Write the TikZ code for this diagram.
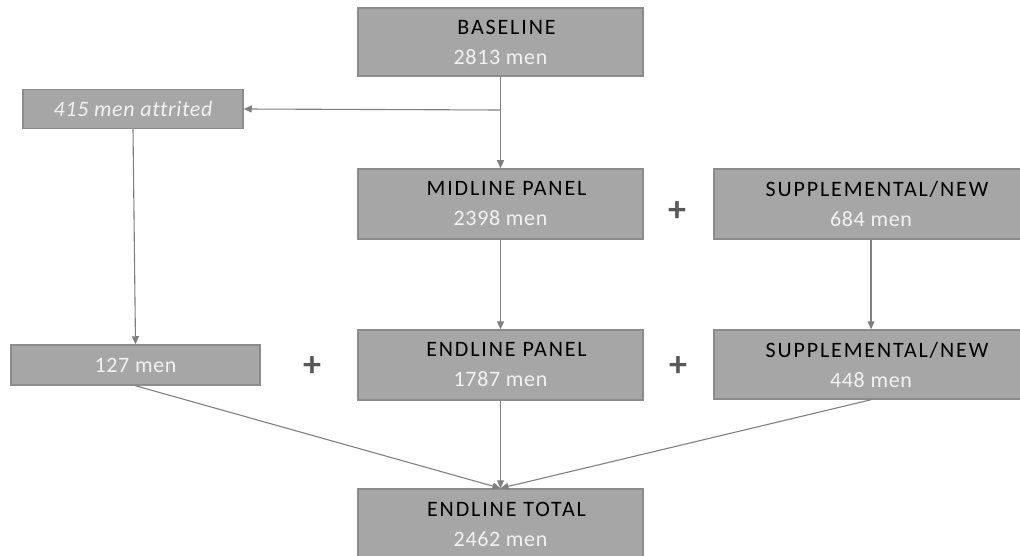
\documentclass[tikz,border=0pt]{standalone}
\usepackage{fontspec}
\setmainfont[Ligatures=NoCommon]{Carlito}
\usetikzlibrary{arrows.meta}
\definecolor{boxgray}{HTML}{A6A6A6}
\definecolor{edgegray}{HTML}{8C8C8C}
\definecolor{linegray}{HTML}{7F7F7F}
\definecolor{numwhite}{HTML}{F2F2F2}
\definecolor{plusgray}{HTML}{595959}
\newcommand{\boxtitle}[1]{\hspace*{12pt}{\addfontfeatures{LetterSpace=8.5}#1}}
\newcommand{\boxcount}[1]{{\addfontfeatures{LetterSpace=3}\color{numwhite}#1}}

\begin{document}
\begin{tikzpicture}[x=1pt,y=-1pt,
  box/.style={draw=edgegray,line width=1.5pt,fill=boxgray,inner sep=0pt,align=center,font=\fontsize{22}{30}\selectfont},
  arr/.style={draw=linegray,line width=1.1pt,-{Triangle[length=8pt,width=7pt]}},
  plus/.style={text=plusgray,font=\fontsize{36}{36}\selectfont\bfseries}]
\useasboundingbox (0,0) rectangle (1020,556);
\node[box,minimum width=285pt,minimum height=68pt] (base) at (500.5,42) {\boxtitle{BASELINE}\\\boxcount{2813 men}};
\node[box,minimum width=220pt,minimum height=39pt] (attr) at (133,109) {\boxcount{\itshape 415 men attrited}};
\node[box,minimum width=285pt,minimum height=70pt] (mid) at (500.5,204) {\boxtitle{MIDLINE PANEL}\\\boxcount{2398 men}};
\node[box,minimum width=314pt,minimum height=70pt] (supA) at (871,204) {\boxtitle{SUPPLEMENTAL/NEW}\\\boxcount{684 men}};
\node[box,minimum width=249pt,minimum height=40pt] (rest) at (135.5,365) {\boxcount{127 men}};
\node[box,minimum width=285pt,minimum height=70pt] (endp) at (500.5,365) {\boxtitle{ENDLINE PANEL}\\\boxcount{1787 men}};
\node[box,minimum width=314pt,minimum height=69pt] (supB) at (871,364.5) {\boxtitle{SUPPLEMENTAL/NEW}\\\boxcount{448 men}};
\node[box,minimum width=285pt,minimum height=70pt] (total) at (500.5,524) {\boxtitle{ENDLINE TOTAL}\\\boxcount{2462 men}};
\node[plus] (plusA) at (677,212) {+};
\node[plus] (plusB) at (312,367) {+};
\node[plus] (plusC) at (678,367) {+};
\coordinate (split) at (500.5,110);
\draw[arr] (base.south) -- (mid.north);
\draw[arr] (split) -- (attr.east);
\draw[arr] (attr.south) -- (rest.north);
\draw[arr] (mid.south) -- (endp.north);
\draw[arr] (supA.south) -- (supB.north);
\draw[arr] (rest.south) -- (total.north);
\draw[arr] (endp.south) -- (total.north);
\draw[arr] (supB.south) -- (total.north);
\end{tikzpicture}
\end{document}
